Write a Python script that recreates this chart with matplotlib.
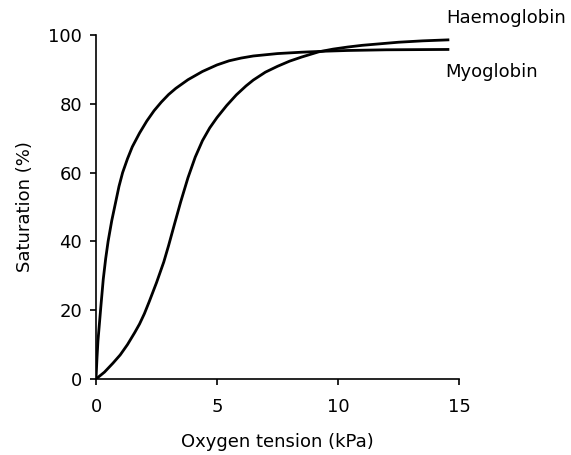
import matplotlib
matplotlib.use('Agg')
import matplotlib.pyplot as plt

# pontos (kPa, %)
mb_x = [0, 0.04, 0.08, 0.14, 0.2, 0.3, 0.4, 0.5, 0.65, 0.8, 0.95, 1.1, 1.3, 1.5, 1.8, 2.1, 2.4, 2.7,
        3.0, 3.3, 3.8, 4.4, 5.0, 5.5, 6.0, 6.5, 7.5, 8.5, 9.5, 10.4, 12.0, 14.6]
mb_y = [0, 6, 11, 16, 21, 29, 35, 40, 46, 51, 56, 60, 64, 67.5, 71.5, 75, 78, 80.5,
        82.7, 84.5, 87.0, 89.4, 91.3, 92.5, 93.3, 93.9, 94.6, 95.0, 95.3, 95.5, 95.7, 95.8]

hb_x = [0, 0.35, 0.7, 1.0, 1.3, 1.6, 1.8, 2.0, 2.2, 2.5, 2.8, 3.0, 3.25, 3.5, 3.8, 4.1, 4.4, 4.7,
        5.0, 5.4, 5.8, 6.2, 6.5, 7.0, 7.5, 8.0, 8.5, 9.2, 9.8, 10.4, 11.0, 11.5, 12.5, 13.5, 14.6]
hb_y = [0, 2, 4.6, 7, 10, 13.5, 16, 19, 22.5, 28, 34, 38.8, 45.2, 51.5, 58.5, 64.5, 69.3, 73,
        76, 79.5, 82.6, 85.2, 86.9, 89.2, 90.9, 92.4, 93.6, 95.1, 95.9, 96.5, 97.0, 97.3, 97.9, 98.3, 98.6]

xticks = [0, 5, 10, 15]
yticks = [0, 20, 40, 60, 80, 100]

fig = plt.figure(figsize=(5.71, 4.55), dpi=100)
ax = fig.add_axes([96/571, 1 - 379/455, (459 - 96)/571, (379 - 35)/455])

ax.plot(mb_x, mb_y, color='black', lw=2.0, solid_capstyle='butt', solid_joinstyle='round')
ax.plot(hb_x, hb_y, color='black', lw=2.0, solid_capstyle='butt', solid_joinstyle='round')

ax.set_xlim(0, 15)
ax.set_ylim(0, 100)
ax.set_xticks(xticks)
ax.set_yticks(yticks)
ax.spines['top'].set_visible(False)
ax.spines['right'].set_visible(False)
ax.spines['left'].set_linewidth(1.2)
ax.spines['bottom'].set_linewidth(1.2)
ax.tick_params(direction='out', length=4, width=1.2, labelsize=13, pad=6)
ax.tick_params(axis='x', pad=10)

ax.set_xlabel('Oxygen tension (kPa)', fontsize=13, labelpad=12)
ax.set_ylabel('Saturation (%)', fontsize=13, labelpad=10)

ax.text(446/571, 1 - 18/455, 'Haemoglobin', transform=fig.transFigure,
        fontsize=13, va='center', ha='left')
ax.text(445/571, 1 - 72/455, 'Myoglobin', transform=fig.transFigure,
        fontsize=13, va='center', ha='left')

fig.savefig('out.png', dpi=100)
